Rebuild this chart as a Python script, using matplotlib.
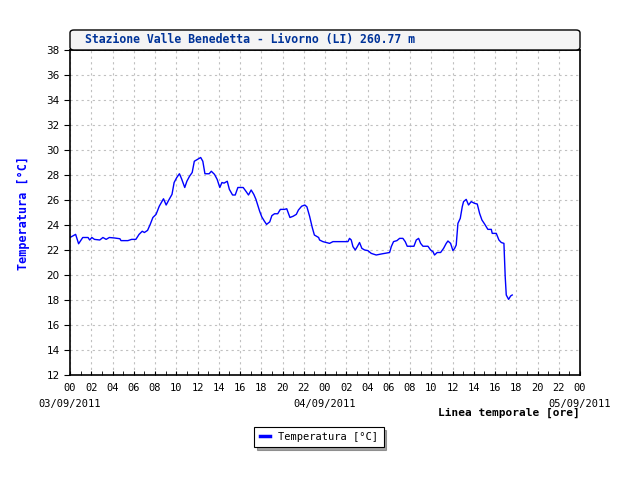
import numpy as np
import matplotlib
matplotlib.use("Agg")
import matplotlib.pyplot as plt
from matplotlib.patches import FancyBboxPatch
from matplotlib.ticker import MultipleLocator, FixedLocator

# hours since 03/09/2011 00:00 and temperature readings
hours = [0.0, 0.53, 0.81, 1.2, 1.7, 1.85, 2.06, 2.3, 2.8, 3.1, 3.4, 3.7, 4.2, 4.7, 4.8, 5.45,
         5.8, 6.2, 6.5, 6.8, 7.0, 7.3, 7.55, 7.8, 8.1, 8.4, 8.8, 9.05, 9.3, 9.6, 9.8, 10.05,
         10.3, 10.5, 10.8, 11.0, 11.25, 11.5, 11.7, 12.0, 12.3, 12.5, 12.7, 13.1, 13.3, 13.6,
         13.85, 14.1, 14.3, 14.5, 14.8, 15.0, 15.3, 15.55, 15.8, 16.3, 16.6, 16.8, 17.05, 17.3,
         17.5, 17.85, 18.05, 18.3, 18.5, 18.8, 19.0, 19.25, 19.55, 19.8, 20.2, 20.4, 20.7, 21.0,
         21.3, 21.5, 21.8, 22.1, 22.3, 22.55, 22.8, 23.0, 23.4,
         23.49, 23.8, 24.43, 24.75, 25.22, 25.69, 26.16, 26.31, 26.47, 26.63, 26.85, 27.04,
         27.25, 27.47, 27.73, 28.04, 28.35, 28.82, 29.29, 30.08, 30.24, 30.45, 30.77, 31.02,
         31.33, 31.55, 31.74, 32.37, 32.59, 32.81, 33.0, 33.22, 33.69, 33.94, 34.16, 34.31,
         34.56, 34.88, 35.16, 35.41, 35.57, 35.82, 36.04, 36.2, 36.35, 36.51, 36.73, 36.92,
         37.04, 37.29, 37.51, 37.76, 38.08, 38.33, 38.55, 38.77, 39.02, 39.33, 39.65, 39.74,
         40.12, 40.37, 40.59, 40.84, 40.96, 41.06, 41.28, 41.47, 41.62]
temps = [23.0, 23.25, 22.5, 23.0, 23.0, 22.8, 23.0, 22.85, 22.8, 23.0, 22.85, 23.0, 22.96, 22.9,
         22.75, 22.75, 22.85, 22.85, 23.25, 23.5, 23.4, 23.57, 24.05, 24.6, 24.85, 25.5, 26.1,
         25.6, 26.0, 26.45, 27.4, 27.8, 28.1, 27.7, 27.0, 27.5, 27.9, 28.2, 29.1, 29.25, 29.4,
         29.1, 28.1, 28.1, 28.3, 28.05, 27.65, 27.0, 27.4, 27.35, 27.5, 26.85, 26.4, 26.4, 27.0,
         27.0, 26.65, 26.4, 26.8, 26.45, 26.05, 25.1, 24.65, 24.3, 24.05, 24.25, 24.75, 24.9,
         24.9, 25.25, 25.25, 25.3, 24.6, 24.7, 24.85, 25.2, 25.5, 25.6, 25.45, 24.7, 23.8, 23.2,
         23.0,
         22.8, 22.67, 22.53, 22.67, 22.67, 22.67, 22.67, 22.93, 22.8, 22.27, 22.0, 22.27, 22.6,
         22.13, 22.0, 21.95, 21.73, 21.6, 21.68, 21.8, 22.27, 22.67, 22.75, 22.93, 22.93, 22.67,
         22.3, 22.3, 22.8, 22.93, 22.53, 22.3, 22.3, 22.0, 21.87, 21.6, 21.8, 21.8, 22.13, 22.53,
         22.72, 22.53, 21.95, 22.13, 22.4, 24.13, 24.53, 25.47, 25.87, 26.05, 25.6, 25.87, 25.73,
         25.68, 24.93, 24.4, 24.08, 23.65, 23.65, 23.33, 23.33, 22.8, 22.6, 22.53, 19.87, 18.4,
         18.05, 18.32, 18.4]

hour_labels = ["00", "02", "04", "06", "08", "10", "12", "14", "16", "18", "20", "22"] * 2 + ["00"]
date_labels = ["03/09/2011", "04/09/2011", "05/09/2011"]
title = "Stazione Valle Benedetta - Livorno (LI) 260.77 m"

mono = "DejaVu Sans Mono"
fig = plt.figure(figsize=(6.4, 4.8), dpi=100)
ax = fig.add_axes([70 / 640, 1 - 375 / 480, 510 / 640, 325 / 480])

ax.plot(hours, temps, color="#0000ff", lw=1.0, label="Temperatura [°C]")

ax.set_xlim(0, 48)
ax.set_ylim(12, 38)
ax.xaxis.set_major_locator(FixedLocator(np.arange(0, 49, 2)))
ax.xaxis.set_minor_locator(MultipleLocator(1))
ax.set_xticklabels(hour_labels, fontfamily=mono, fontsize=7.5)
ax.yaxis.set_major_locator(MultipleLocator(2))
ax.tick_params(axis="x", which="both", direction="in", length=3, pad=6)
ax.tick_params(axis="y", direction="out", length=4, labelsize=7.5)
ax.grid(True, color="#c0c0c0", linestyle=(0, (2, 3)), lw=0.8)
for s in ax.spines.values():
    s.set_linewidth(1.2)

for i, d in enumerate(date_labels):
    ax.text(i * 24, -0.09, d, transform=ax.get_xaxis_transform(), ha="center",
            va="center", fontsize=7.5, fontfamily=mono)
ax.text(1.0, -0.118, "Linea temporale [ore]", transform=ax.transAxes, ha="right",
        va="center", fontsize=8, fontweight="bold", fontfamily=mono)

ax.set_ylabel("Temperatura [°C]", color="#0000ff", fontweight="bold", fontfamily=mono,
              fontsize=8.5, labelpad=12)

# title box
box = FancyBboxPatch((70 / 640, 1 - 50 / 480), 510 / 640, 20 / 480,
                     boxstyle="round,pad=0,rounding_size=0.006", transform=fig.transFigure,
                     facecolor="#f4f4f4", edgecolor="black", lw=1.0)
fig.patches.append(box)
fig.text(85 / 640, 1 - 40 / 480, title, color="#003399", fontweight="bold",
         fontfamily=mono, fontsize=8.3, va="center", ha="left")

leg = ax.legend(loc="center", bbox_to_anchor=(319 / 640, 1 - 437 / 480),
                bbox_transform=fig.transFigure, fancybox=False, shadow=True,
                edgecolor="black", handlelength=1.0, prop={"family": mono, "size": 7.5},
                borderpad=0.5)
leg.get_frame().set_linewidth(0.8)
for h in leg.legend_handles:
    h.set_linewidth(2.5)

fig.savefig("out.png", dpi=100)
